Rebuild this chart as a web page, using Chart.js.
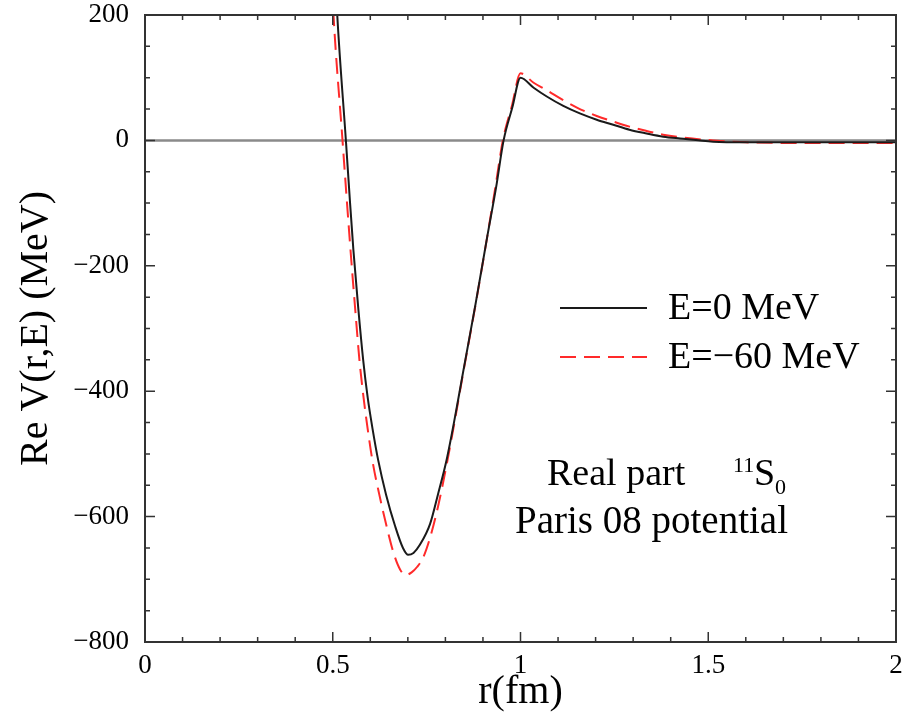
<!DOCTYPE html>
<html><head><meta charset="utf-8">
<script src="https://cdn.jsdelivr.net/npm/chart.js@4.4.1/dist/chart.umd.min.js"></script>
<style>html,body{margin:0;padding:0;background:#fff;}#wrap{width:903px;height:720px;position:relative;}</style>
</head><body><div id="wrap"><canvas id="c" width="903" height="720"></canvas></div>
<script>
// ---- data ----
const rE0  = [0.46, 0.49, 0.512, 0.535, 0.545, 0.555, 0.568, 0.581, 0.593, 0.606, 0.621, 0.642, 0.666, 0.687, 0.701, 0.715, 0.732, 0.759, 0.780, 0.803, 0.825, 0.847, 0.880, 0.911, 0.935, 0.955, 0.978, 1.0, 1.035, 1.07, 1.114, 1.158, 1.203, 1.247, 1.29, 1.336, 1.38, 1.425, 1.513, 1.6, 1.7, 1.8, 1.9, 2.0];
const vE0  = [900, 480, 200, 0, -90, -175, -268, -350, -410, -460, -510, -565, -615, -650, -661, -658, -645, -612, -565, -510, -443, -370, -262, -155, -75, 0, 52, 100, 84, 70, 55, 43, 33, 25, 17, 11, 6, 3, -2, -3, -3, -3, -3, -3];
const rE60 = [0.46, 0.48, 0.502, 0.526, 0.538, 0.550, 0.561, 0.571, 0.582, 0.593, 0.606, 0.624, 0.644, 0.663, 0.680, 0.695, 0.710, 0.725, 0.741, 0.760, 0.780, 0.803, 0.825, 0.847, 0.880, 0.911, 0.933, 0.953, 0.977, 1.0, 1.035, 1.07, 1.114, 1.158, 1.203, 1.247, 1.29, 1.336, 1.38, 1.425, 1.513, 1.6, 1.7, 1.8, 1.9, 2.0];
const vE60 = [820, 480, 200, 0, -100, -196, -278, -350, -410, -460, -512, -565, -617, -660, -685, -693, -689, -680, -665, -632, -585, -518, -447, -372, -263, -155, -75, 0, 55, 107, 92, 80, 64, 50, 39, 30, 22, 15, 9, 5, 0, -3, -4, -4, -4, -4];
const seriesLabels = ['E=0 MeV', 'E=\u221260 MeV'];
const xTickValues = [0, 0.5, 1, 1.5, 2];
const yTickValues = [200, 0, -200, -400, -600, -800];
const noteLine1 = 'Real part';
const noteState = ['11', 'S', '0'];
const noteLine2 = 'Paris 08 potential';

const SERIF = '"Liberation Serif", "DejaVu Serif", serif';
const toPts = (rs, vs) => rs.map((r, i) => ({x: r, y: vs[i]}));

const zeroLine = {
  id: 'zeroLine',
  beforeDatasetsDraw(chart) {
    const {ctx, chartArea: a, scales: {y}} = chart;
    const py = y.getPixelForValue(0);
    ctx.save();
    ctx.strokeStyle = '#8a8a8a'; ctx.lineWidth = 2.5;
    ctx.beginPath(); ctx.moveTo(a.left, py); ctx.lineTo(a.right, py); ctx.stroke();
    ctx.restore();
  }
};

const frame = {
  id: 'frame',
  afterDatasetsDraw(chart) {
    const {ctx, chartArea: a, scales: {x, y}} = chart;
    ctx.save();
    ctx.strokeStyle = '#333'; ctx.lineWidth = 2;
    ctx.strokeRect(a.left, a.top, a.right - a.left, a.bottom - a.top);
    ctx.lineWidth = 1.5;
    ctx.beginPath();
    for (let k = 1; k < 20; k++) {
      const px = x.getPixelForValue(k / 10);
      const len = (k % 5 === 0) ? 10 : 5;
      ctx.moveTo(px, a.bottom); ctx.lineTo(px, a.bottom - len);
      ctx.moveTo(px, a.top); ctx.lineTo(px, a.top + len);
    }
    for (let k = -15; k < 4; k++) {
      const py = y.getPixelForValue(k * 50);
      const len = (k % 4 === 0) ? 10 : 5;
      ctx.moveTo(a.left, py); ctx.lineTo(a.left + len, py);
      ctx.moveTo(a.right, py); ctx.lineTo(a.right - len, py);
    }
    ctx.stroke();
    ctx.restore();
  }
};

const notes = {
  id: 'notes',
  afterDraw(chart) {
    const {ctx, chartArea: a} = chart;
    const L = a.left, T = a.top;
    ctx.save();
    ctx.fillStyle = '#000';
    ctx.textBaseline = 'middle';
    ctx.font = '38px ' + SERIF;
    const ds = chart.data.datasets;
    const rows = [293, 342];
    ds.forEach((d, i) => {
      const yy = T + rows[i];
      ctx.save();
      ctx.strokeStyle = d.borderColor; ctx.lineWidth = d.borderWidth;
      ctx.setLineDash(d.borderDash || []);
      ctx.beginPath(); ctx.moveTo(L + 415, yy); ctx.lineTo(L + 502, yy); ctx.stroke();
      ctx.restore();
      ctx.fillText(d.label, L + 523, yy + 1);
    });
    ctx.textBaseline = 'alphabetic';
    ctx.fillText(noteLine1, L + 402, T + 470);
    ctx.font = '22px ' + SERIF;
    ctx.fillText(noteState[0], L + 588, T + 457);
    ctx.font = '38px ' + SERIF;
    ctx.fillText(noteState[1], L + 609, T + 470);
    ctx.font = '22px ' + SERIF;
    ctx.fillText(noteState[2], L + 630, T + 479);
    ctx.font = '39px ' + SERIF;
    ctx.fillText(noteLine2, L + 370, T + 518);
    ctx.restore();
  }
};

const minus = v => String(v).replace('-', '\u2212');

new Chart(document.getElementById('c'), {
  type: 'line',
  data: {
    datasets: [
      {label: seriesLabels[0], data: toPts(rE0, vE0), borderColor: '#1a1a1a', borderWidth: 2,
       pointRadius: 0, cubicInterpolationMode: 'monotone', fill: false},
      {label: seriesLabels[1], data: toPts(rE60, vE60), borderColor: '#ff2a2a', borderWidth: 2,
       borderDash: [16, 8], pointRadius: 0, cubicInterpolationMode: 'monotone', fill: false}
    ]
  },
  options: {
    responsive: false, animation: false, devicePixelRatio: 1,
    parsing: false,
    layout: {padding: {top: 15, right: 7, left: 0, bottom: 0}},
    plugins: {legend: {display: false}, tooltip: {enabled: false}},
    scales: {
      x: {
        type: 'linear', min: 0, max: 2,
        afterBuildTicks: s => { s.ticks = xTickValues.map(v => ({value: v})); },
        ticks: {color: '#000', font: {family: SERIF, size: 27, lineHeight: 1}, padding: 10, maxRotation: 0,
                callback: v => minus(v)},
        grid: {display: false, drawTicks: false}, border: {display: false},
        title: {display: true, text: 'r(fm)', color: '#000', font: {family: SERIF, size: 40, lineHeight: 1.2},
                padding: {top: 0, bottom: 4}},
        afterFit: s => { s.height = 78; s.paddingLeft = 0; s.paddingRight = 0; }
      },
      y: {
        type: 'linear', min: -800, max: 200,
        afterBuildTicks: s => { s.ticks = yTickValues.map(v => ({value: v})); },
        ticks: {color: '#000', font: {family: SERIF, size: 27, lineHeight: 1}, padding: 16,
                callback: v => minus(v)},
        grid: {display: false, drawTicks: false}, border: {display: false},
        title: {display: true, text: 'Re V(r,E) (MeV)', color: '#000', font: {family: SERIF, size: 40, lineHeight: 1.2},
                padding: {top: 12, bottom: 0}},
        afterFit: s => { s.width = 145; s.paddingTop = 0; s.paddingBottom = 0; }
      }
    }
  },
  plugins: [zeroLine, frame, notes]
});
</script>
</body></html>
